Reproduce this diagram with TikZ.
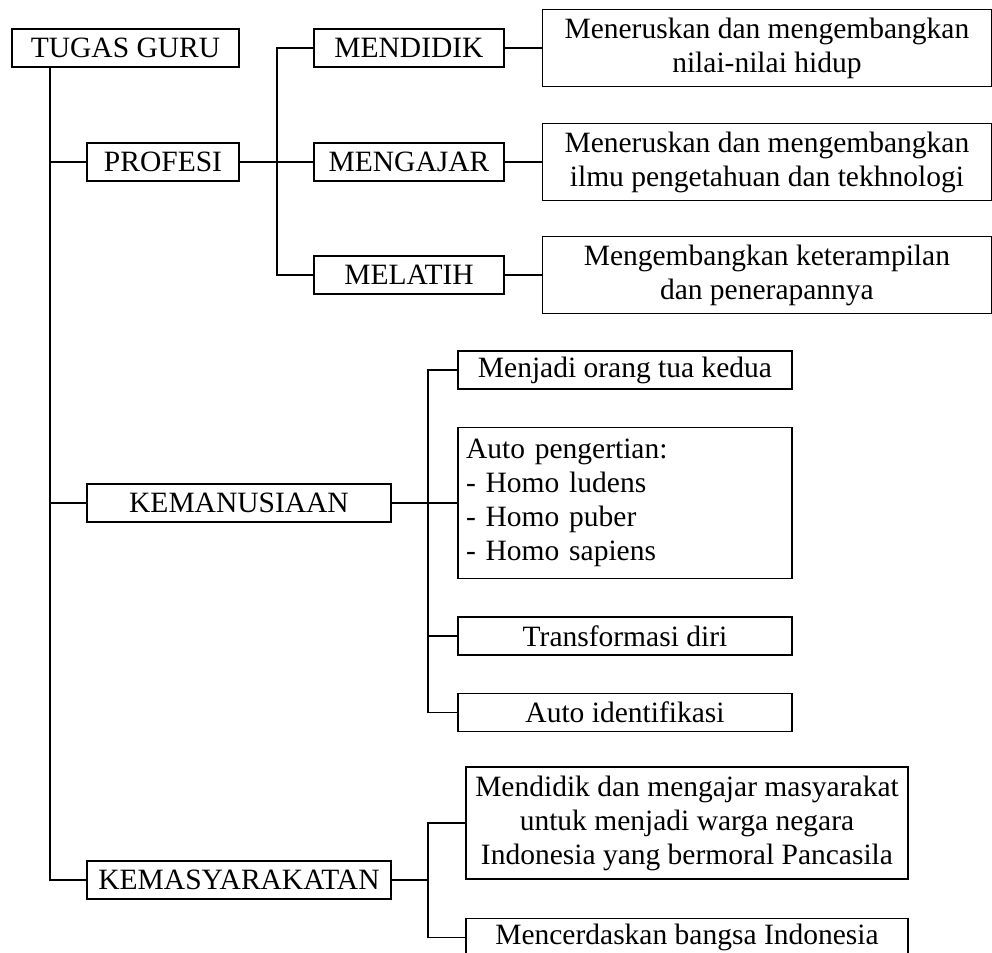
\documentclass[tikz,border=0pt]{standalone}
\usepackage{fontspec}
\setmainfont{Liberation Serif}
\usetikzlibrary{positioning}

\tikzset{
  box/.style={draw,line width=0.7pt,inner sep=0pt,minimum height=19pt,align=center},
  rootbox/.style={box,minimum width=113.5pt},
  midbox/.style={box,minimum width=95pt},
  descbox/.style={box,minimum width=224.5pt,minimum height=38.5pt},
  leafbox/.style={box,minimum width=167pt},
  wideleaf/.style={box,minimum width=221pt},
}

\begin{document}
\begin{tikzpicture}[x=0.5pt,y=-0.5pt,line width=0.7pt,
    font=\fontsize{14.75pt}{17pt}\selectfont]
  \useasboundingbox (0,0) rectangle (992,953);
  \coordinate (trunk) at (50,0);
  \coordinate (forkA) at (277,0);
  \coordinate (forkB) at (428,0);
  \coordinate (kemcol) at (239,0);

  % profesi
  \node[rootbox](guru) at (125.5,48){TUGAS GURU};
  \node[box,minimum width=76pt](profesi) at (163,162){PROFESI};
  \node[midbox](mendidik) at (409,48){MENDIDIK};
  \node[midbox](mengajar) at (409,162){MENGAJAR};
  \node[midbox](melatih) at (409,275){MELATIH};
  \node[descbox,right=18.5pt of mendidik](nilai){Meneruskan dan mengembangkan\\nilai-nilai hidup};
  \node[descbox,right=18.5pt of mengajar](ilmu){Meneruskan dan mengembangkan\\ilmu pengetahuan dan tekhnologi};
  \node[descbox,right=18.5pt of melatih](terampil){Mengembangkan keterampilan\\dan penerapannya};

  % kemanusiaan
  \node[leafbox](orangtua) at (625,370){Menjadi orang tua kedua};
  \node[leafbox,minimum height=75.5pt,below=18.5pt of orangtua,align=left,
    text width=159pt,inner xsep=4pt](pengertian){Auto pengertian:\\- Homo ludens\\- Homo puber\\- Homo sapiens};
  \node[leafbox,below=18.5pt of pengertian](transformasi){Transformasi diri};
  \node[leafbox,below=18.5pt of transformasi](identifikasi){Auto identifikasi};
  \node[box,minimum width=152pt](kemanusiaan) at (kemcol |- pengertian){KEMANUSIAAN};

  % kemasyarakatan
  \node[wideleaf,minimum height=56pt](warga) at (687,823){Mendidik dan mengajar masyarakat\\untuk menjadi warga negara\\Indonesia yang bermoral Pancasila};
  \node[wideleaf,below=19pt of warga](cerdas){Mencerdaskan bangsa Indonesia};
  \node[box,minimum width=152pt](kemasyarakatan) at (239,880){KEMASYARAKATAN};

  % connectors
  \draw (guru.south -| trunk) |- (kemasyarakatan.west);
  \draw (trunk |- profesi) -- (profesi.west);
  \draw (trunk |- kemanusiaan) -- (kemanusiaan.west);

  \draw (mendidik.west) -| (forkA |- melatih) -- (melatih.west);
  \draw (profesi.east) -- (mengajar.west);
  \draw (mendidik.east) -- (nilai.west);
  \draw (mengajar.east) -- (ilmu.west);
  \draw (melatih.east) -- (terampil.west);

  \draw (orangtua.west) -| (forkB |- identifikasi) -- (identifikasi.west);
  \draw (kemanusiaan.east) -- (pengertian.west);
  \draw (transformasi.west) -- (transformasi.west -| forkB);

  \draw (warga.west) -| (forkB |- cerdas) -- (cerdas.west);
  \draw (kemasyarakatan.east) -- (kemasyarakatan.east -| forkB);
\end{tikzpicture}
\end{document}
